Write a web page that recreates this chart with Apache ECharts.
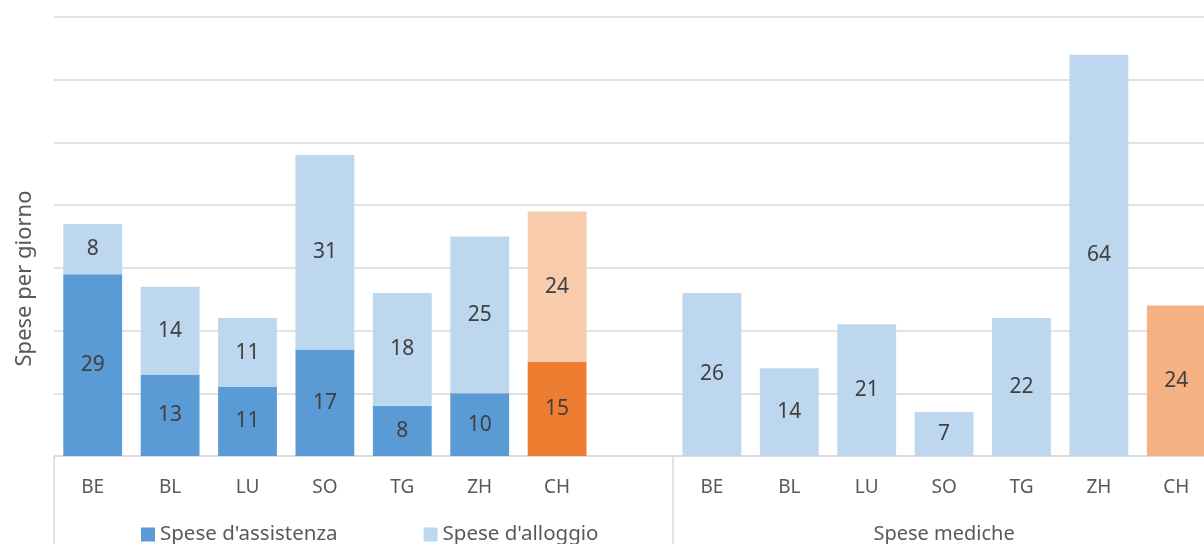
<!DOCTYPE html>
<html>
<head>
<meta charset="utf-8">
<script src="https://cdn.jsdelivr.net/npm/echarts@6/dist/echarts.min.js"></script>
<style>
html,body{margin:0;padding:0;background:#fff;}
#chart{width:1204px;height:544px;}
</style>
</head>
<body>
<div id="chart"></div>
<script>
// Categories (left group: assistance + housing; right group: medical)
const cantons = ['BE', 'BL', 'LU', 'SO', 'TG', 'ZH', 'CH'];
const categories = cantons.concat(['']).concat(cantons);
const yTicks = { min: 0, max: 70, interval: 10 };

// Values
const assistenza = [29, 13, 11, 17, 8, 10, 15];
const alloggio = [8, 14, 11, 31, 18, 25, 24];
const mediche = [26, 14, 21, 7, 22, 64, 24];

const seriesNames = ["Spese d'assistenza", "Spese d'alloggio", 'Spese mediche'];
const groupLabel = 'Spese mediche';
const yTitle = 'Spese per giorno';

const colAssist = '#5B9BD5', colAssistCH = '#ED7D31';
const colAlloggio = '#BDD7EE', colAlloggioCH = '#F8CBAD';
const colMed = '#BDD7EE', colMedCH = '#F4B183';

const FONT = 'Noto Sans';
const pad = n => new Array(n).fill('-');

function build(vals, color, chColor, offset) {
  const arr = pad(offset).concat(vals.map((v, i) =>
    cantons[i] === 'CH' ? { value: v, itemStyle: { color: chColor } } : v));
  return arr.concat(pad(categories.length - arr.length));
}

const labelCfg = {
  show: true, position: 'inside', color: '#404040',
  fontFamily: FONT, fontSize: 21
};

const chart = echarts.init(document.getElementById('chart'), null, { renderer: 'canvas' });
chart.setOption({
  animation: false,
  backgroundColor: '#ffffff',
  grid: { left: 54, top: 17, bottom: 88, right: -11, containLabel: false, outerBoundsMode: 'none' },
  legend: {
    data: [seriesNames[0], seriesNames[1]],
    left: 141, top: 524, padding: 0,
    icon: 'rect', itemWidth: 14, itemHeight: 14, itemGap: 86,
    textStyle: { fontFamily: FONT, fontSize: 20.5, color: '#595959' }
  },
  xAxis: {
    type: 'category',
    data: categories,
    axisLine: { show: true, lineStyle: { color: '#D9D9D9', width: 1.5 } },
    axisTick: {
      show: true, length: 88,
      interval: (idx) => idx === 0 || idx === 8,
      lineStyle: { color: '#D9D9D9', width: 1.5 }
    },
    axisLabel: { margin: 22, interval: 0, fontFamily: FONT, fontSize: 19, color: '#595959' }
  },
  yAxis: {
    type: 'value',
    min: yTicks.min, max: yTicks.max, interval: yTicks.interval,
    name: yTitle, nameLocation: 'middle', nameRotate: 90, nameGap: 18,
    nameTextStyle: { fontFamily: FONT, fontSize: 22, color: '#595959', padding: [0, 84, 0, 0] },
    axisLabel: { show: false },
    axisLine: { show: false }, axisTick: { show: false },
    splitLine: { lineStyle: { color: '#D9D9D9', width: 1.5 } }
  },
  series: [
    { name: seriesNames[0], type: 'bar', stack: 's', barWidth: '76%',
      itemStyle: { color: colAssist }, label: labelCfg,
      data: build(assistenza, colAssist, colAssistCH, 0) },
    { name: seriesNames[1], type: 'bar', stack: 's', barWidth: '76%',
      itemStyle: { color: colAlloggio }, label: labelCfg,
      data: build(alloggio, colAlloggio, colAlloggioCH, 0) },
    { name: seriesNames[2], type: 'bar', stack: 's', barWidth: '76%',
      itemStyle: { color: colMed }, label: labelCfg,
      data: build(mediche, colMed, colMedCH, 8) }
  ]
});

// group label centered under the right group
const xa = chart.convertToPixel({ xAxisIndex: 0 }, 8);
const xb = chart.convertToPixel({ xAxisIndex: 0 }, 14);
chart.setOption({
  graphic: [{
    type: 'text', x: (xa + xb) / 2, y: 534,
    style: { text: groupLabel, fontFamily: FONT, fontSize: 20, fill: '#595959',
             textAlign: 'center', textVerticalAlign: 'middle' }
  }]
});
</script>
</body>
</html>
